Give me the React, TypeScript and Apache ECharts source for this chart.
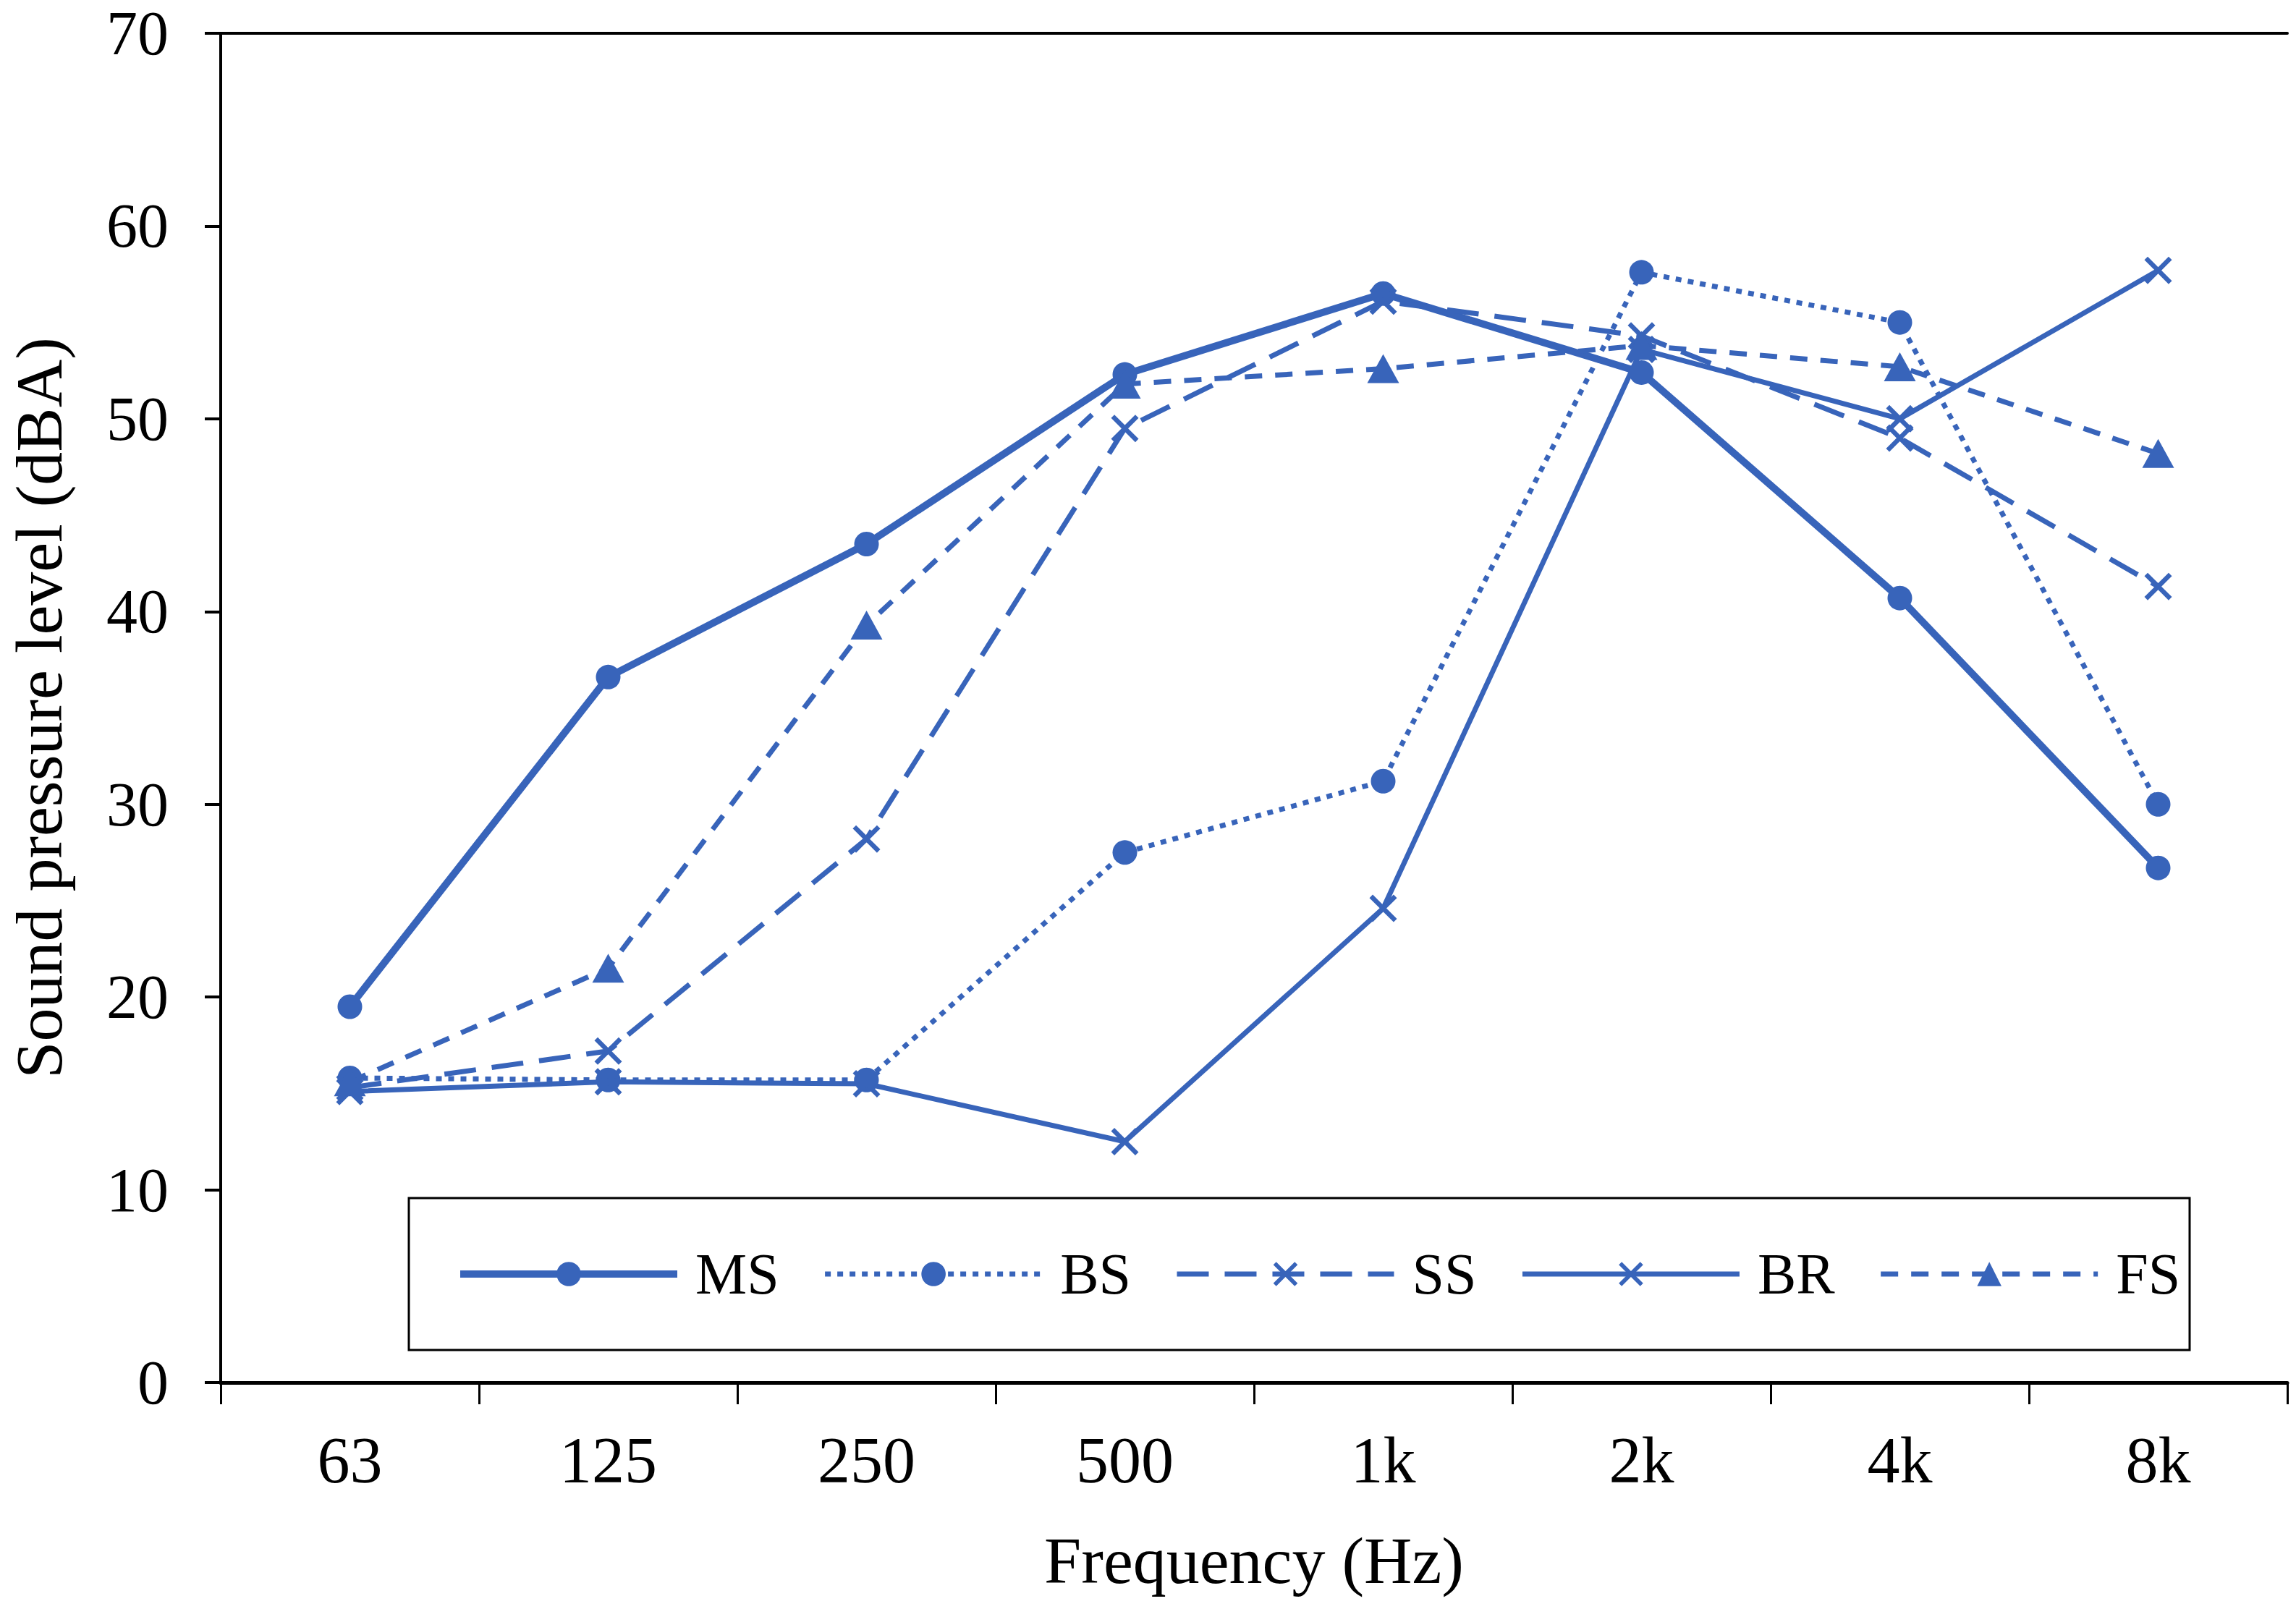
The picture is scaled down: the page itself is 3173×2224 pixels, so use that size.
import React, { useEffect, useRef } from "react";
import * as echarts from "echarts";

const categories = ["63", "125", "250", "500", "1k", "2k", "4k", "8k"];
const yTicks = [0, 10, 20, 30, 40, 50, 60, 70];
const seriesNames = ["MS", "BS", "SS", "BR", "FS"];
const msValues = [19.5, 36.6, 43.5, 52.3, 56.5, 52.4, 40.7, 26.7];
const bsValues = [15.8, 15.7, 15.7, 27.5, 31.2, 57.6, 55.0, 30.0];
const ssValues = [15.3, 17.2, 28.2, 49.5, 56.1, 54.3, 49.0, 41.3];
const brValues = [15.1, 15.6, 15.5, 12.5, 24.6, 53.6, 50.0, 57.7];
const fsValues = [15.6, 21.5, 39.3, 51.8, 52.6, 53.8, 52.7, 48.2];

const BLUE = "#3864BA";
const FONT = "'Liberation Serif', 'Times New Roman', serif";
const CROSS =
  "path://M0,12L12,0L50,38L88,0L100,12L62,50L100,88L88,100L50,62L12,100L0,88L38,50Z";

const widths = [10, 7, 7, 7, 7];
const dashes: any[] = ["solid", [8, 9], [44, 22], "solid", [24, 18]];

export default function App() {
  const ref = useRef<HTMLDivElement>(null);
  useEffect(() => {
    if (!ref.current) return;
    const chart = echarts.init(ref.current, undefined, { renderer: "svg" });
    const mk = (i: number, data: number[], symbol: string, symbolSize: any) => ({
      name: seriesNames[i],
      type: "line",
      data,
      symbol,
      symbolSize,
      showSymbol: true,
      lineStyle: { color: BLUE, width: widths[i], type: dashes[i], cap: "butt" },
      itemStyle: { color: BLUE, borderWidth: 0 },
      emphasis: { disabled: true },
    });
    chart.setOption({
      animation: false,
      backgroundColor: "#ffffff",
      grid: { left: 302, right: 12, top: 46, bottom: 313, containLabel: false },
      xAxis: [
        {
          type: "category",
          data: categories,
          boundaryGap: true,
          name: "Frequency (Hz)",
          nameLocation: "middle",
          nameGap: 200,
          nameTextStyle: { fontFamily: FONT, fontSize: 92, color: "#000" },
          axisLine: { lineStyle: { color: "#000", width: 5 } },
          axisTick: { show: true, length: 30, lineStyle: { color: "#000", width: 3 } },
          axisLabel: { fontFamily: FONT, fontSize: 90, color: "#000", margin: 62 },
          splitLine: { show: false },
        },
        {
          type: "category",
          data: categories,
          position: "top",
          axisLine: { lineStyle: { color: "#000", width: 4 } },
          axisTick: { show: false },
          axisLabel: { show: false },
          splitLine: { show: false },
        },
      ],
      yAxis: {
        type: "value",
        min: yTicks[0],
        max: yTicks[yTicks.length - 1],
        interval: 10,
        name: "Sound pressure level (dBA)",
        nameLocation: "middle",
        nameGap: 205,
        nameTextStyle: { fontFamily: FONT, fontSize: 92, color: "#000" },
        axisLine: { show: true, lineStyle: { color: "#000", width: 4 } },
        axisTick: { show: true, length: 22, lineStyle: { color: "#000", width: 4 } },
        axisLabel: {
          fontFamily: FONT,
          fontSize: 86,
          lineHeight: 66,
          color: "#000",
          margin: 72,
        },
        splitLine: { show: false },
      },
      legend: {
        data: seriesNames.map((n, i) => ({
          name: n,
          lineStyle: { width: widths[i], type: dashes[i], color: BLUE },
        })),
        orient: "horizontal",
        left: 631,
        top: 1711,
        padding: 0,
        itemWidth: 300,
        itemHeight: 42,
        itemGap: 60,
        textStyle: {
          fontFamily: FONT,
          fontSize: 80,
          color: "#000",
          lineHeight: 100,
          padding: [0, 0, 0, 20],
        },
        selectedMode: false,
      },
      graphic: [
        {
          type: "rect",
          shape: { x: 565, y: 1656, width: 2461, height: 210 },
          style: { fill: "none", stroke: "#000", lineWidth: 3 },
          silent: true,
          z: 0,
        },
      ],
      series: [
        mk(0, msValues, "circle", 34),
        mk(1, bsValues, "circle", 34),
        mk(2, ssValues, CROSS, 38),
        mk(3, brValues, CROSS, 38),
        mk(4, fsValues, "triangle", [44, 40]),
      ],
    });
    return () => chart.dispose();
  }, []);
  return (
    <div
      ref={ref}
      style={{ position: "absolute", left: 0, top: 0, width: 3173, height: 2224 }}
    />
  );
}
